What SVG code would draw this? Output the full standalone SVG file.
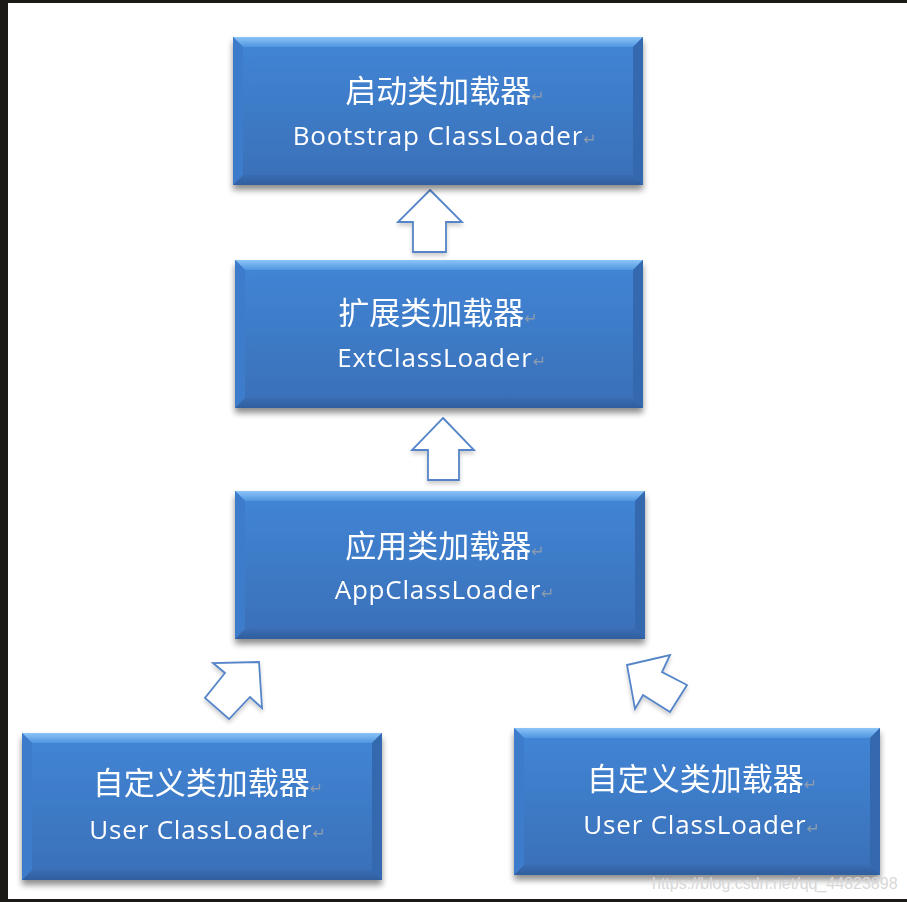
<svg xmlns="http://www.w3.org/2000/svg" width="907" height="902" viewBox="0 0 907 902">
<defs>
<linearGradient id="face" x1="0" y1="0" x2="0" y2="1">
<stop offset="0" stop-color="#4186d6"/>
<stop offset="1" stop-color="#3a6fb7"/>
</linearGradient>
<linearGradient id="topb" x1="0" y1="0" x2="0" y2="1">
<stop offset="0" stop-color="#8cc4f8"/>
<stop offset="1" stop-color="#4f95e0"/>
</linearGradient>
<linearGradient id="botb" x1="0" y1="0" x2="0" y2="1">
<stop offset="0" stop-color="#3a6cb2"/>
<stop offset="1" stop-color="#2f5e9e"/>
</linearGradient>
<filter id="sh" x="-10%" y="-10%" width="120%" height="130%">
<feGaussianBlur in="SourceAlpha" stdDeviation="3"/>
<feOffset dx="0" dy="5"/>
<feComponentTransfer><feFuncA type="linear" slope="0.45"/></feComponentTransfer>
<feMerge><feMergeNode/><feMergeNode in="SourceGraphic"/></feMerge>
</filter>
<filter id="ash" x="-20%" y="-20%" width="140%" height="140%">
<feGaussianBlur in="SourceAlpha" stdDeviation="2"/>
<feOffset dx="0" dy="3"/>
<feComponentTransfer><feFuncA type="linear" slope="0.2"/></feComponentTransfer>
<feMerge><feMergeNode/><feMergeNode in="SourceGraphic"/></feMerge>
</filter>
</defs>
<style>
.face{fill:url(#face)}
.tb{fill:url(#topb)}
.bb{fill:url(#botb)}
.lb{fill:#3c7bcb}
.rb{fill:#3669af}
.cn{font-family:"Noto Sans CJK SC","Open Sans",sans-serif;font-size:31px;fill:#ffffff;text-anchor:middle}
.en{font-family:"Open Sans","Noto Sans",sans-serif;font-size:26px;letter-spacing:0.8px;fill:#ffffff;text-anchor:middle}
.rm{fill:#8a9bb0;font-size:16px;font-family:"DejaVu Sans",sans-serif}
.arr{fill:#ffffff;stroke:#5585c8;stroke-width:1.8;stroke-linejoin:miter}
.wm{font-family:"Liberation Sans",Arial,sans-serif;font-size:16px;fill:#d8d8d8}
</style>
<rect width="907" height="902" fill="#ffffff"/>
<rect x="0" y="0" width="907" height="3" fill="#1c1a17"/>
<rect x="0" y="0" width="8" height="902" fill="#1c1a17"/>
<rect x="0" y="899" width="907" height="3" fill="#1c1a17"/>

<g id="connectors">
<polygon class="arr" filter="url(#ash)" points="430,190 462,222 446,222 446,252 413,252 413,222 398,222"/>
<polygon class="arr" filter="url(#ash)" points="443,418 474,450 459,450 459,480 428,480 428,450 412,450"/>
<polygon class="arr" filter="url(#ash)" points="259,662 262,708 250,697 229,719 205,698 225,673 213,663"/>
<polygon class="arr" filter="url(#ash)" points="627,665 670,655 662,672 687,685 670,712 643,695 635,709"/>
</g>

<g id="bootstrap" filter="url(#sh)">
<rect class="face" x="233" y="37" width="410" height="148"/>
<polygon class="tb" points="233,37 643,37 633,47 243,47"/>
<polygon class="bb" points="233,185 643,185 633,175 243,175"/>
<polygon class="lb" points="233,37 243,47 243,175 233,185"/>
<polygon class="rb" points="643,37 633,47 633,175 643,185"/>
<text class="cn" x="445" y="102">启动类加载器<tspan class="rm">↵</tspan></text>
<text class="en" x="445" y="145">Bootstrap ClassLoader<tspan class="rm">↵</tspan></text>
</g>

<g id="ext" filter="url(#sh)">
<rect class="face" x="235" y="260" width="408" height="148"/>
<polygon class="tb" points="235,260 643,260 633,270 245,270"/>
<polygon class="bb" points="235,408 643,408 633,398 245,398"/>
<polygon class="lb" points="235,260 245,270 245,398 235,408"/>
<polygon class="rb" points="643,260 633,270 633,398 643,408"/>
<text class="cn" x="438" y="324">扩展类加载器<tspan class="rm">↵</tspan></text>
<text class="en" x="442" y="367">ExtClassLoader<tspan class="rm">↵</tspan></text>
</g>

<g id="app" filter="url(#sh)">
<rect class="face" x="235" y="491" width="410" height="148"/>
<polygon class="tb" points="235,491 645,491 635,501 245,501"/>
<polygon class="bb" points="235,639 645,639 635,629 245,629"/>
<polygon class="lb" points="235,491 245,501 245,629 235,639"/>
<polygon class="rb" points="645,491 635,501 635,629 645,639"/>
<text class="cn" x="445" y="557">应用类加载器<tspan class="rm">↵</tspan></text>
<text class="en" x="445" y="599">AppClassLoader<tspan class="rm">↵</tspan></text>
</g>

<g id="user1" filter="url(#sh)">
<rect class="face" x="22" y="733" width="360" height="147"/>
<polygon class="tb" points="22,733 382,733 372,743 32,743"/>
<polygon class="bb" points="22,880 382,880 372,870 32,870"/>
<polygon class="lb" points="22,733 32,743 32,870 22,880"/>
<polygon class="rb" points="382,733 372,743 372,870 382,880"/>
<text class="cn" x="208" y="794">自定义类加载器<tspan class="rm">↵</tspan></text>
<text class="en" x="208" y="839">User ClassLoader<tspan class="rm">↵</tspan></text>
</g>

<g id="user2" filter="url(#sh)">
<rect class="face" x="514" y="728" width="366" height="147"/>
<polygon class="tb" points="514,728 880,728 870,738 524,738"/>
<polygon class="bb" points="514,875 880,875 870,865 524,865"/>
<polygon class="lb" points="514,728 524,738 524,865 514,875"/>
<polygon class="rb" points="880,728 870,738 870,865 880,875"/>
<text class="cn" x="702" y="790">自定义类加载器<tspan class="rm">↵</tspan></text>
<text class="en" x="702" y="834">User ClassLoader<tspan class="rm">↵</tspan></text>
</g>

<text class="wm" x="652" y="889">https://blog.csdn.net/qq_44823898</text>
</svg>
